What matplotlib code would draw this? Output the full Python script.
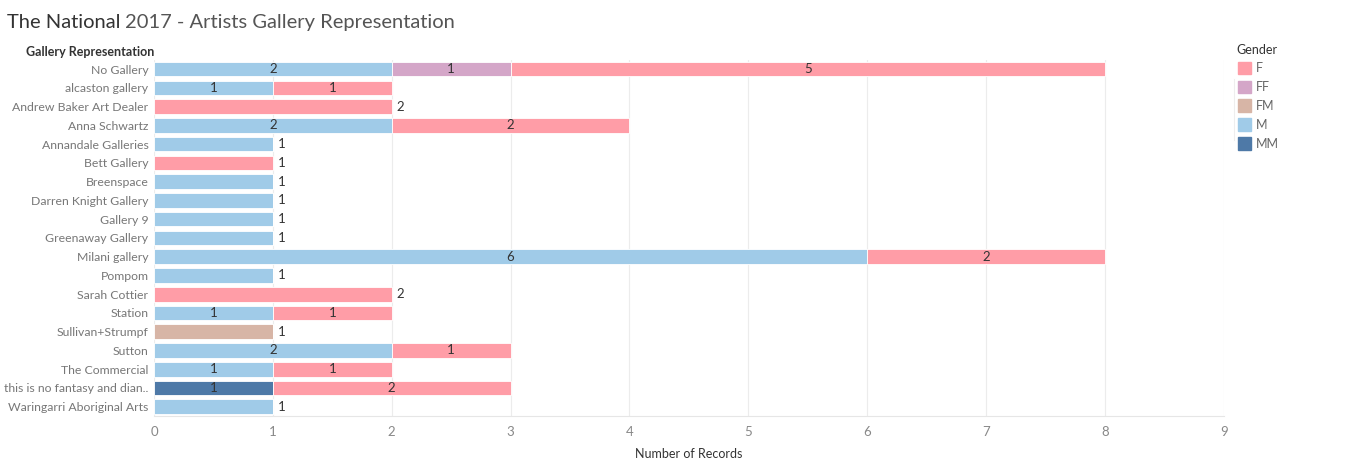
import matplotlib
matplotlib.use("Agg")
import matplotlib.pyplot as plt
import numpy as np

galleries = ["No Gallery", "alcaston gallery", "Andrew Baker Art Dealer", "Anna Schwartz",
             "Annandale Galleries", "Bett Gallery", "Breenspace", "Darren Knight Gallery",
             "Gallery 9", "Greenaway Gallery", "Milani gallery", "Pompom", "Sarah Cottier",
             "Station", "Sullivan+Strumpf", "Sutton", "The Commercial",
             "this is no fantasy and dian..", "Waringarri Aboriginal Arts"]
# stacked from left: MM, M, FM, FF, F
mm = [0, 0, 0, 0, 0, 0, 0, 0, 0, 0, 0, 0, 0, 0, 0, 0, 0, 1, 0]
m  = [2, 1, 0, 2, 1, 0, 1, 1, 1, 1, 6, 1, 0, 1, 0, 2, 1, 0, 1]
fm = [0, 0, 0, 0, 0, 0, 0, 0, 0, 0, 0, 0, 0, 0, 1, 0, 0, 0, 0]
ff = [1, 0, 0, 0, 0, 0, 0, 0, 0, 0, 0, 0, 0, 0, 0, 0, 0, 0, 0]
f  = [5, 1, 2, 2, 0, 1, 0, 0, 0, 0, 2, 0, 2, 1, 0, 1, 1, 2, 0]

genders = ["F", "FF", "FM", "M", "MM"]
colors = {"F": "#ff9da7", "FF": "#d4a6c8", "FM": "#d7b5a6", "M": "#a0cbe8", "MM": "#4e79a7"}
stack = [("MM", mm), ("M", m), ("FM", fm), ("FF", ff), ("F", f)]

plt.rcParams['font.family'] = ['Lato', 'DejaVu Sans']
fig = plt.figure(figsize=(13.66, 4.67), dpi=100)
ax = fig.add_axes([0.1127, 0.109, 0.7833, 0.763])

y = np.arange(len(galleries))
left = np.zeros(len(galleries))
nseg = np.zeros(len(galleries))
for name, vals in stack:
    nseg += np.array(vals) > 0
for name, vals in stack:
    vals = np.array(vals, dtype=float)
    ax.barh(y, vals, left=left, height=0.78, color=colors[name], edgecolor="white", linewidth=0.6, zorder=2)
    for i, v in enumerate(vals):
        if v > 0 and nseg[i] > 1:
            ax.text(left[i] + v / 2, y[i], str(int(v)), ha="center", va="center",
                    fontsize=9.5, color="#333333", zorder=3)
    left += vals
for i in range(len(galleries)):
    if nseg[i] == 1:
        ax.text(left[i] + 0.04, y[i], str(int(left[i])), ha="left", va="center",
                fontsize=9.5, color="#333333")

ax.set_ylim(len(galleries) - 0.5, -0.5)
ax.set_xlim(0, 9)
ax.set_xticks(range(10))
ax.set_yticks(y)
ax.set_yticklabels(galleries, fontsize=8.8, color="#777777")
ax.tick_params(axis="x", labelsize=9.5, colors="#888888", length=0, pad=7)
ax.tick_params(axis="y", length=0, pad=4)
ax.grid(axis="x", color="#ececec", linewidth=0.8, zorder=0)
for s in ["top", "right", "left"]:
    ax.spines[s].set_visible(False)
ax.spines["bottom"].set_color("#e6e6e6")
ax.set_xlabel("Number of Records", fontsize=9, color="#333333", labelpad=7)

fig.text(0.019, 0.88, "Gallery Representation", fontsize=9, color="#333333", fontweight="bold")

t1 = fig.text(0.005, 0.94, "The National", fontsize=14.5, color="#333333")
fig.canvas.draw()
bb = t1.get_window_extent()
fig.text((bb.x1 + 5) / fig.bbox.width, 0.94, "2017 - Artists Gallery Representation",
         fontsize=14.5, color="#555555")

# legend
fig.text(0.905, 0.885, "Gender", fontsize=9, color="#333333")
for k, g in enumerate(genders):
    yy = 0.854 - k * 0.0405
    fig.patches.append(plt.Rectangle((0.9065, yy - 0.013), 0.009, 0.027, transform=fig.transFigure,
                                     color=colors[g]))
    fig.text(0.9195, yy, g, fontsize=9, color="#666666", va="center")
fig.add_artist(plt.Line2D([0.9035, 0.9035], [0.83, 0.7], color="#eeeeee", linewidth=0.8))

fig.savefig("out.png", dpi=100)
